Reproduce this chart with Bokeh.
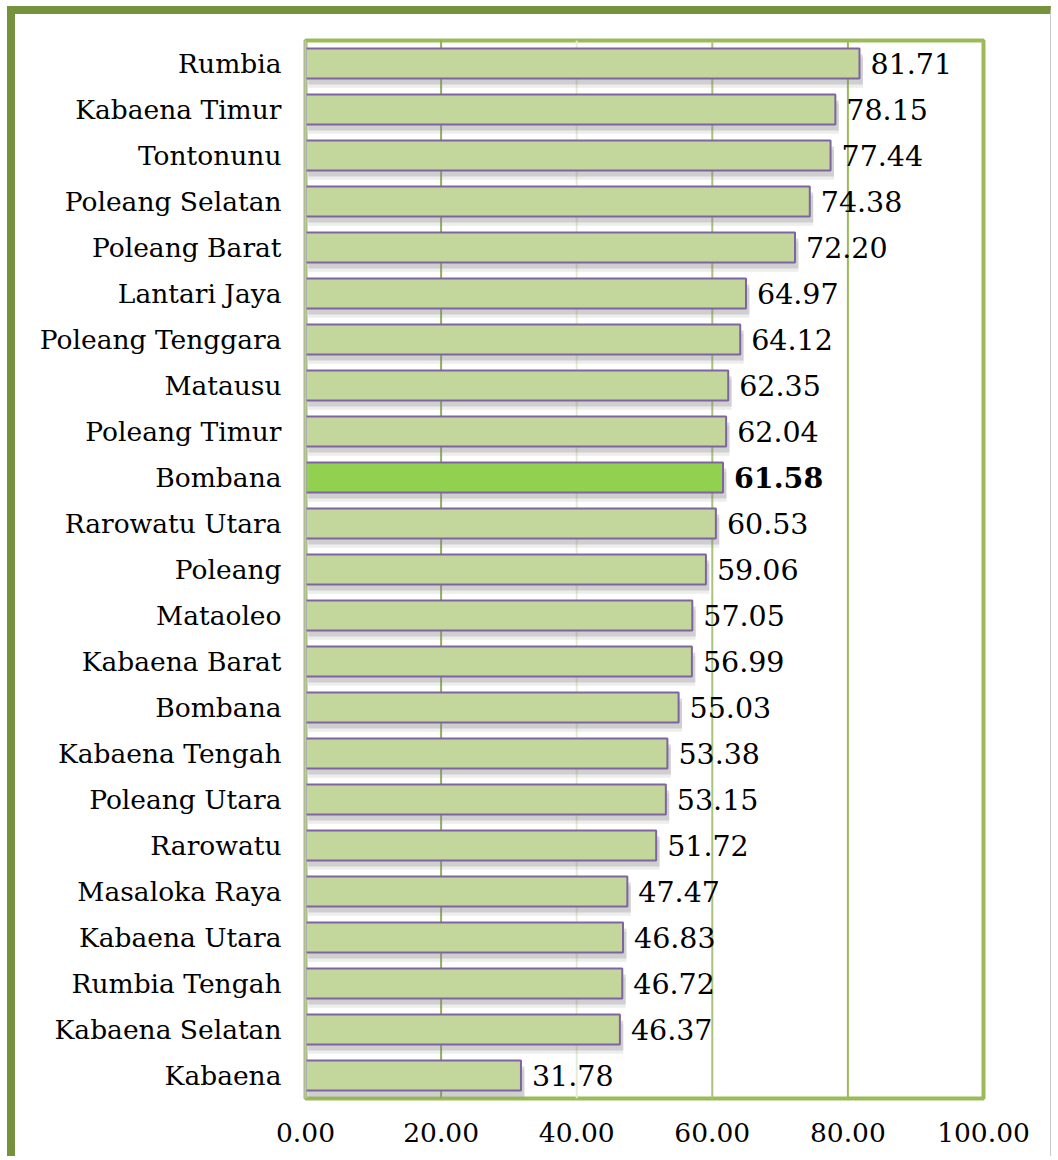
from bokeh.plotting import figure
from bokeh.models import FixedTicker, NumeralTickFormatter, Span, ColumnDataSource
from bokeh.core.properties import value
from bokeh.embed import file_html
from bokeh.resources import INLINE

# ---- data (top to bottom as shown) ----
regions = ["Rumbia", "Kabaena Timur", "Tontonunu", "Poleang Selatan", "Poleang Barat",
           "Lantari Jaya", "Poleang Tenggara", "Matausu", "Poleang Timur", "Bombana",
           "Rarowatu Utara", "Poleang", "Mataoleo", "Kabaena Barat", "Bombana",
           "Kabaena Tengah", "Poleang Utara", "Rarowatu", "Masaloka Raya", "Kabaena Utara",
           "Rumbia Tengah", "Kabaena Selatan", "Kabaena"]
values = [81.71, 78.15, 77.44, 74.38, 72.20, 64.97, 64.12, 62.35, 62.04, 61.58,
          60.53, 59.06, 57.05, 56.99, 55.03, 53.38, 53.15, 51.72, 47.47, 46.83,
          46.72, 46.37, 31.78]
highlight = [False] * 9 + [True] + [False] * 13
x_ticks = [0, 20, 40, 60, 80, 100]
grid_at = [20, 40, 60, 80]
grid_colors = ["#8FB05A", "#E4ECD6", "#A9C47A", "#9BBB59"]

n = len(regions)
ypos = [n - 1 - i for i in range(n)]
fills = ["#92D050" if h else "#C3D69B" for h in highlight]
labels = ["%.2f" % v for v in values]
weights = ["bold" if h else "normal" for h in highlight]

src = ColumnDataSource(dict(y=ypos, v=values, fill=fills, lab=labels, w=weights,
                            ys1=[y - 0.13 for y in ypos], ys2=[y - 0.2 for y in ypos],
                            vs=[v + 0.5 for v in values]))

FONT = "DejaVu Serif"

p = figure(width=1044, height=1150, x_range=(0, 100), y_range=(-0.5, n - 0.5),
           output_backend="svg", toolbar_location=None,
           min_border_left=290, min_border_right=76, min_border_top=26, min_border_bottom=66)
p.styles = {"border-top": "8px solid #76923C", "border-left": "8px solid #76923C",
            "border-right": "1px solid #C8C8C8", "margin-left": "7px", "margin-top": "6px"}
p.background_fill_color = "white"
p.border_fill_color = "white"
p.outline_line_color = "#9BBB59"
p.outline_line_width = 4
p.xgrid.grid_line_color = None
p.ygrid.grid_line_color = None

for loc, col in zip(grid_at, grid_colors):
    p.add_layout(Span(location=loc, dimension="height", line_color=col,
                      line_width=2, level="underlay"))

# shadows
p.hbar(y="ys2", left=0.4, right="vs", height=0.65, source=src,
       fill_color="#808080", fill_alpha=0.14, line_color=None)
p.hbar(y="ys1", left=0.4, right="vs", height=0.65, source=src,
       fill_color="#808080", fill_alpha=0.28, line_color=None)
# bars
p.hbar(y="y", left=0, right="v", height=0.65, source=src,
       fill_color="fill", line_color="#8064A2", line_width=2)
# value labels
p.text(x="v", y="y", text="lab", source=src, x_offset=11, text_baseline="middle",
       text_align="left", text_font=value(FONT), text_font_size="28.5px",
       text_font_style="w", text_color="black")

# y axis (category labels)
p.yaxis.ticker = FixedTicker(ticks=ypos)
p.yaxis.major_label_overrides = {y: r for y, r in zip(ypos, regions)}
p.yaxis.major_tick_line_color = None
p.yaxis.minor_tick_line_color = None
p.yaxis.axis_line_color = "#BFBFBF"
p.yaxis.axis_line_width = 2
p.yaxis.major_label_standoff = 18
p.yaxis.major_label_text_font = FONT
p.yaxis.major_label_text_font_size = "26.5px"
p.yaxis.major_label_text_color = "black"

# x axis
p.xaxis.ticker = FixedTicker(ticks=x_ticks)
p.xaxis.formatter = NumeralTickFormatter(format="0.00")
p.xaxis.major_tick_line_color = None
p.xaxis.minor_tick_line_color = None
p.xaxis.axis_line_color = None
p.xaxis.major_label_standoff = 18
p.xaxis.major_label_text_font = FONT
p.xaxis.major_label_text_font_size = "26.5px"
p.xaxis.major_label_text_color = "black"

open("out.html", "w").write(file_html(p, INLINE))
